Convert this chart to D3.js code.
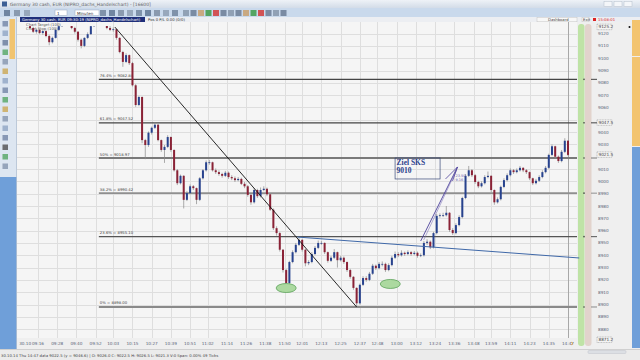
<!DOCTYPE html>
<html>
<head>
<meta charset="utf-8">
<script src="https://cdn.jsdelivr.net/npm/d3@7"></script>
<style>
  body { margin: 0; background: #efefef; }
  svg { display: block; font-family: 'DejaVu Sans', sans-serif; }
</style>
</head>
<body>
<div id="chart"></div>
<script>
// 2-minute candles, first one at 09:11
const candleStart = '09:11'
const candleStep = 2
const firstOpen = 9126

const closes = [
  9124.5, 9121.5, 9123, 9120.5, 9122, 9118, 9113, 9116.5, 9123, 9126,
  9135, 9137.5, 9134.5, 9124.5, 9121.5, 9115, 9110, 9116.5, 9119.5, 9126,
  9135, 9139, 9137.5, 9132.5, 9124.5, 9123, 9123.5, 9116.5, 9105, 9097,
  9102.5, 9096, 9078, 9062, 9068.5, 9033.5, 9029.5, 9039.5, 9043.5, 9046,
  9033.5, 9025.5, 9028, 9036, 9025.5, 9009, 8998.5, 9004.5, 8985, 8990.5,
  8996, 8994.5, 8985, 9002.5, 9009, 9015.5, 9015.5, 9009, 9007.5, 9006,
  9004.5, 9007, 9003.5, 9002.5, 9001, 9002, 8998, 8996, 8989, 8983,
  8993, 8988, 8993, 8994, 8989.5, 8977, 8962, 8958, 8944.5, 8928,
  8917.5, 8934.5, 8942.5, 8948.5, 8952.5, 8944.5, 8933.5, 8934.5, 8941, 8946,
  8950, 8950, 8942.5, 8935.5, 8938, 8942.5, 8936, 8938, 8934.5, 8928,
  8922.5, 8913.5, 8901, 8916, 8921.5, 8920, 8925, 8931.5, 8929.5, 8933,
  8933, 8928, 8932, 8938, 8941, 8940, 8942, 8941, 8942.5, 8941,
  8942, 8939.5, 8940, 8950, 8951, 8946.5, 8958, 8972, 8972.5, 8972.5,
  8974.5, 8960.5, 8958, 8964.5, 8971, 8986.5, 9004.5, 9009, 9005, 8999.5,
  8996, 8998.5, 9003.5, 9004.5, 8993, 8983, 8985.5, 8995.5, 9001, 9005,
  9009, 9007.5, 9009, 9011, 9009, 9007.5, 9002.5, 8998.5, 9000.5, 9003.5,
  9007.5, 9011, 9021.5, 9028.5, 9020, 9016.5, 9024, 9033, 9021.5
]

const highs = [
  9127, 9125.5, 9124, 9124, 9123, 9123, 9119, 9117.5, 9124, 9127,
  9136, 9138.5, 9138, 9135, 9125.5, 9122, 9116, 9117, 9121, 9127,
  9136, 9140, 9139.5, 9138, 9133, 9126, 9125, 9124, 9117, 9106,
  9104, 9103, 9097, 9079, 9069.5, 9069, 9034.5, 9040.5, 9044.5, 9048,
  9046.5, 9034, 9029.5, 9037.5, 9036.5, 9026, 9010, 9005.5, 9005, 8992,
  8997.5, 8997, 8995, 9003.5, 9010, 9017, 9017.5, 9016, 9010.5, 9009,
  9007, 9008.5, 9008, 9005, 9004, 9003.5, 9003, 8999.5, 8997, 8990,
  8994.5, 8994, 8995, 8996, 8995, 8990, 8978, 8963.5, 8959, 8945,
  8929, 8935.5, 8944, 8950, 8954.5, 8953, 8945, 8936, 8942.5, 8947.5,
  8952, 8951.5, 8950.5, 8943, 8939.5, 8945, 8943, 8939.5, 8939, 8935,
  8929, 8923, 8914, 8917, 8923, 8923, 8926.5, 8933, 8932.5, 8934.5,
  8935, 8934, 8933.5, 8939.5, 8943, 8942.5, 8944, 8943, 8944, 8943.5,
  8943.5, 8943, 8941.5, 8951.5, 8953, 8952, 8959, 8973.5, 8974, 8974.5,
  8980, 8975, 8962, 8966, 8972.5, 8987.5, 9006, 9012.5, 9010, 9006,
  9000.5, 9000, 9005, 9008, 9005, 8993.5, 8987, 8996.5, 9002.5, 9006.5,
  9010.5, 9010, 9010.5, 9012.5, 9011.5, 9010, 9008, 9003, 9002, 9005,
  9009, 9012.5, 9022.5, 9030, 9029, 9021, 9025.5, 9035, 9033.5
]

const lows = [
  9123.5, 9120.5, 9120, 9119.5, 9119, 9117, 9110.5, 9112, 9116, 9122,
  9125.5, 9134, 9131, 9123.5, 9120, 9113.5, 9108, 9109, 9115.5, 9119,
  9125.5, 9134, 9136, 9131.5, 9123.5, 9122, 9121.5, 9115, 9104, 9093,
  9096, 9094.5, 9077, 9060.5, 9061, 9031, 9018, 9028, 9038, 9042.5,
  9032.5, 9024, 9015, 9027, 9024, 9008, 8997, 8997.5, 8978, 8984,
  8989.5, 8993, 8981.5, 8984, 9001.5, 9008, 9013.5, 9008, 9006, 9004.5,
  9003, 9003.5, 9002, 9001, 8999.5, 9000, 8997, 8994.5, 8987.5, 8981,
  8982, 8986.5, 8987, 8992, 8988, 8976, 8960.5, 8956, 8943, 8926,
  8914, 8916.5, 8933.5, 8941.5, 8947.5, 8943, 8931, 8932, 8933.5, 8940,
  8945, 8948.5, 8941, 8934, 8934.5, 8937, 8930, 8935, 8933, 8926.5,
  8921, 8912, 8898, 8900, 8915, 8918.5, 8919, 8924, 8928, 8928.5,
  8931, 8926.5, 8927, 8931, 8937, 8938.5, 8939, 8939.5, 8940, 8939.5,
  8940, 8938, 8938.5, 8939, 8948.5, 8945, 8945.5, 8957, 8970.5, 8971,
  8971.5, 8959, 8956.5, 8957, 8963.5, 8970, 8985.5, 9003.5, 9003.5, 8998,
  8994.5, 8995, 8997.5, 9002.5, 8991.5, 8981, 8982, 8984.5, 8994.5, 9000,
  9004, 9006, 9006.5, 9008, 9007.5, 9006, 9001, 8997, 8997.5, 8999.5,
  9002.5, 9006.5, 9010, 9020.5, 9018.5, 9015, 9015.5, 9023, 9020.5
]

const timeLabels = [
  '09:16', '09:28', '09:40', '09:52', '10:03', '10:15', '10:27', '10:39',
  '10:51', '11:02', '11:14', '11:26', '11:38', '11:50', '12:01', '12:13',
  '12:25', '12:37', '12:48', '13:00', '13:12', '13:24', '13:36', '13:48',
  '13:59', '14:11', '14:23', '14:35', '14:47'
]
const dateLabel = { text: '30.10', time: '09:08' }

const priceTicks = [
  8880, 8890, 8900, 8910, 8920, 8930, 8940, 8950, 8960, 8970, 8980, 8990, 9000,
  9010, 9020, 9030, 9040, 9050, 9060, 9070, 9080, 9090, 9100, 9110, 9120
]
const priceBoxes = ['9125.2', '9047.5', '9021.5', '8871.2']

const fibNames = ['0%', '23.6%', '38.2%', '50%', '61.8%', '76.4%']
const fibPrices = [8898.0, 8955.1, 8990.42, 9018.97, 9047.52, 9082.84]
const fibStart = '09:54'

const trendLine = [['10:04', 9125.3], ['12:35', 8898]]
const neckLine = [['11:58', 8954.8], ['14:54', 8937.8]]
const arrowLine = [['13:15', 8951.6], ['13:38', 9011.7]]
const bottoms = [['11:51', 8913.4], ['12:56', 8916.7]]
const targetNote = { time: '12:59', price: 9019, lines: ['Ziel SKS', '9010'] }

const toMin = s => +s.slice(0, 2) * 60 + +s.slice(3, 5)

const W = 640
const H = 360
const plot = { left: 17, right: 577, top: 22, bottom: 338 }

const x = d3.scaleLinear().domain([toMin('09:16'), toMin('14:47')]).range([38, 568])
const y = d3.scaleLinear().domain([8871.2, 9129.4]).range([340, 22])

const svg = d3
  .select('#chart')
  .append('svg')
  .attr('width', W)
  .attr('height', H)

svg.append('rect').attr('width', W).attr('height', H).attr('fill', '#efefef')

// window chrome
const grad = svg.append('defs').append('linearGradient')
  .attr('id', 'title').attr('x1', 0).attr('x2', 0).attr('y1', 0).attr('y2', 1)
grad.append('stop').attr('offset', 0).attr('stop-color', '#eef2f7')
grad.append('stop').attr('offset', 1).attr('stop-color', '#d3dce8')
svg.append('rect').attr('width', W).attr('height', 8).attr('fill', 'url(#title)')
svg.append('rect').attr('x', 2).attr('y', 1.5).attr('width', 5).attr('height', 5).attr('fill', '#3c5f95')
svg.append('text').attr('x', 10).attr('y', 6).attr('font-size', 4.5).attr('fill', '#666')
  .text('Germany 30 cash, EUR (NIPRO_dachs_Handelschart) - [16600]')
;[604, 614, 624].forEach(bx => {
  svg.append('rect').attr('x', bx).attr('y', 1.5).attr('width', 8).attr('height', 5)
    .attr('fill', '#f4f6f9').attr('stroke', '#b5bfcc').attr('stroke-width', 0.5)
})

svg.append('rect').attr('y', 8).attr('width', W).attr('height', 9).attr('fill', '#c9d9ec')
const iconColors = ['#5a6f8e', '#7a8aa0', '#8c9bb0', '#6d7f9a']
d3.range(0, 12).forEach(i => {
  svg.append('rect').attr('x', i < 3 ? 4 + i * 10 : 100 + (i - 3) * 9).attr('y', 10)
    .attr('width', 6).attr('height', 6).attr('fill', iconColors[i % 4]).attr('opacity', 0.8)
})
svg.append('rect').attr('x', 55).attr('y', 10).attr('width', 12).attr('height', 5.5).attr('fill', '#fff').attr('stroke', '#9aa8bb').attr('stroke-width', 0.5)
svg.append('text').attr('x', 57).attr('y', 14.5).attr('font-size', 4).attr('fill', '#333').text('1')
svg.append('rect').attr('x', 75).attr('y', 10).attr('width', 24).attr('height', 5.5).attr('fill', '#fff').attr('stroke', '#9aa8bb').attr('stroke-width', 0.5)
svg.append('text').attr('x', 77).attr('y', 14.5).attr('font-size', 4).attr('fill', '#333').text('Minuten')
d3.range(0, 14).forEach(i => {
  svg.append('rect').attr('x', 183 + i * 7.5).attr('y', 10).attr('width', 6).attr('height', 6)
    .attr('fill', ['#8796ab', '#6c7d96', '#c9a070', '#3f9a4a', '#d23b3b', '#6c7d96'][i % 6]).attr('opacity', 0.85)
})

// header strip
svg.append('rect').attr('y', 17).attr('width', W).attr('height', 5).attr('fill', '#eceef2')
svg.append('rect').attr('x', 20).attr('y', 17).attr('width', 125).attr('height', 5).attr('fill', '#1f2f7a')
svg.append('text').attr('x', 22).attr('y', 21).attr('font-size', 3.8).attr('fill', '#fff')
  .text('Germany 30 cash, EUR   09:30:19 (NIPRO_dachs_Handelschart)')
svg.append('text').attr('x', 148).attr('y', 21).attr('font-size', 3.8).attr('fill', '#333').text('Pos 0  P/L 0.00  (0/0)')
svg.append('rect').attr('x', 537).attr('y', 17.3).attr('width', 40).attr('height', 4.5).attr('fill', '#f7f7f7').attr('stroke', '#bbb').attr('stroke-width', 0.4)
svg.append('text').attr('x', 548).attr('y', 21).attr('font-size', 3.8).attr('fill', '#444').text('Dashboard')
svg.append('rect').attr('x', 582).attr('y', 17.3).attr('width', 7).attr('height', 4.5).attr('fill', '#f7f7f7').attr('stroke', '#bbb').attr('stroke-width', 0.4)
svg.append('text').attr('x', 583).attr('y', 21).attr('font-size', 3.8).attr('fill', '#444').text('Exit')
svg.append('rect').attr('x', 593).attr('y', 18).attr('width', 3).attr('height', 3).attr('fill', '#d22')
svg.append('text').attr('x', 598).attr('y', 21).attr('font-size', 3.8).attr('fill', '#d22').text('15:08:01')

// plot background and grid
svg.append('rect')
  .attr('x', plot.left).attr('y', plot.top)
  .attr('width', plot.right - plot.left).attr('height', plot.bottom - plot.top)
  .attr('fill', '#f5f5f5')

svg.append('g')
  .selectAll('line')
  .data(priceTicks)
  .enter()
  .append('line')
  .attr('x1', plot.left).attr('x2', plot.right)
  .attr('y1', d => Math.round(y(d)) + 0.5).attr('y2', d => Math.round(y(d)) + 0.5)
  .attr('stroke', '#dedede')

svg.append('g')
  .selectAll('line')
  .data(timeLabels)
  .enter()
  .append('line')
  .attr('x1', d => Math.round(x(toMin(d))) + 0.5).attr('x2', d => Math.round(x(toMin(d))) + 0.5)
  .attr('y1', plot.top).attr('y2', plot.bottom)
  .attr('stroke', '#dedede')

// last-bar marker line
svg.append('line')
  .attr('x1', Math.round(x(toMin('14:47'))) + 0.5).attr('x2', Math.round(x(toMin('14:47'))) + 0.5)
  .attr('y1', plot.top).attr('y2', plot.bottom)
  .attr('stroke', '#a8a8a8')

// right bands
svg.append('rect').attr('x', 578).attr('y', 24).attr('width', 6.5).attr('height', 322).attr('rx', 3).attr('fill', '#bfe3a6')
svg.append('rect').attr('x', 585).attr('y', 24).attr('width', 6.5).attr('height', 322).attr('rx', 3).attr('fill', '#e2d3cc')

// legend texts
svg.append('text').attr('x', 26).attr('y', 25.5).attr('font-size', 3.8).attr('fill', '#555').text('Chart Target (100)')
svg.append('text').attr('x', 26).attr('y', 30).attr('font-size', 3.8).attr('fill', '#555').text('Chart Stop (100)')

// fibonacci levels
const fibStyle = [
  { w: 1.8, c: '#8a8a8a' },
  { w: 1.3, c: '#555' },
  { w: 1.8, c: '#8f8f8f' },
  { w: 1.8, c: '#7a7a7a' },
  { w: 1.1, c: '#444' },
  { w: 1.1, c: '#444' }
]
const fib = svg.append('g')
fibPrices.forEach((p, i) => {
  const yy = y(p)
  fib.append('line')
    .attr('x1', x(toMin(fibStart))).attr('x2', plot.right)
    .attr('y1', yy).attr('y2', yy)
    .attr('stroke', fibStyle[i].c).attr('stroke-width', fibStyle[i].w)
  fib.append('circle').attr('cx', 584).attr('cy', yy).attr('r', 0.8).attr('fill', '#444')
  fib.append('line').attr('x1', 591).attr('x2', 597).attr('y1', yy).attr('y2', yy)
    .attr('stroke', fibStyle[i].c).attr('stroke-width', 1)
  fib.append('text')
    .attr('x', x(toMin(fibStart)) + 1).attr('y', yy - 2.5)
    .attr('font-size', 3.8).attr('fill', '#444')
    .text(fibNames[i] + ' = ' + p.toFixed(2))
})

// candles
const candles = closes.map((c, i) => ({
  t: toMin(candleStart) + i * candleStep,
  o: i === 0 ? firstOpen : closes[i - 1],
  h: highs[i],
  l: lows[i],
  c: c
}))

svg.append('clipPath').attr('id', 'clip')
  .append('rect').attr('x', plot.left).attr('y', 26)
  .attr('width', plot.right - plot.left).attr('height', plot.bottom - 26)

const cg = svg.append('g').attr('clip-path', 'url(#clip)')
cg.selectAll('.wick')
  .data(candles)
  .enter()
  .append('line')
  .attr('class', 'wick')
  .attr('x1', d => x(d.t)).attr('x2', d => x(d.t))
  .attr('y1', d => y(d.h)).attr('y2', d => y(d.l))
  .attr('stroke', '#8a8a8a').attr('stroke-width', 0.7)

cg.selectAll('.body')
  .data(candles)
  .enter()
  .append('rect')
  .attr('class', 'body')
  .attr('x', d => x(d.t) - 1)
  .attr('width', 2)
  .attr('y', d => y(Math.max(d.o, d.c)))
  .attr('height', d => Math.max(0.8, Math.abs(y(d.o) - y(d.c))))
  .attr('fill', d => (d.c >= d.o ? '#27428e' : '#8a2236'))

// annotations
svg.append('line')
  .attr('x1', x(toMin(trendLine[0][0]))).attr('y1', y(trendLine[0][1]))
  .attr('x2', x(toMin(trendLine[1][0]))).attr('y2', y(trendLine[1][1]))
  .attr('stroke', '#111').attr('stroke-width', 0.9)

svg.append('line')
  .attr('x1', x(toMin(neckLine[0][0]))).attr('y1', y(neckLine[0][1]))
  .attr('x2', x(toMin(neckLine[1][0]))).attr('y2', y(neckLine[1][1]))
  .attr('stroke', '#3f68a8').attr('stroke-width', 1)

svg.selectAll('.bottom')
  .data(bottoms)
  .enter()
  .append('ellipse')
  .attr('class', 'bottom')
  .attr('cx', d => x(toMin(d[0]))).attr('cy', d => y(d[1]))
  .attr('rx', 10).attr('ry', 4.5)
  .attr('fill', '#acd9a0').attr('stroke', '#5da35a').attr('stroke-width', 0.8)

const ax1 = x(toMin(arrowLine[0][0]))
const ay1 = y(arrowLine[0][1])
const ax2 = x(toMin(arrowLine[1][0]))
const ay2 = y(arrowLine[1][1])
svg.append('line').attr('x1', ax1).attr('y1', ay1).attr('x2', ax2).attr('y2', ay2)
  .attr('stroke', '#4b3f9a').attr('stroke-width', 0.9)
svg.append('line').attr('x1', ax1 + 3).attr('y1', ay1 - 1).attr('x2', ax2 - 1).attr('y2', ay2 + 3)
  .attr('stroke', '#6a5fb0').attr('stroke-width', 0.5)
svg.append('path')
  .attr('d', `M${ax2 - 12},${ay2 + 12} L${ax2},${ay2} L${ax2 - 5},${ay2 + 14}`)
  .attr('fill', 'none').attr('stroke', '#4b3f9a').attr('stroke-width', 0.8)
svg.append('text').attr('x', ax2 - 2).attr('y', ay2 + 10).attr('font-size', 3.5).attr('fill', '#6a5fb0').text('23.50')
svg.append('text').attr('x', ax2 - 2).attr('y', ay2 + 14.5).attr('font-size', 3.5).attr('fill', '#6a5fb0').text('9.16')

const nx = x(toMin(targetNote.time))
const ny = y(targetNote.price)
svg.append('rect').attr('x', nx).attr('y', ny).attr('width', 45).attr('height', 21)
  .attr('fill', 'none').attr('stroke', '#3b4a7a').attr('stroke-width', 0.7)
targetNote.lines.forEach((t, i) => {
  svg.append('text')
    .attr('x', nx + 1.5).attr('y', ny + 7.5 + i * 7.5)
    .attr('font-family', "'Liberation Serif', serif").attr('font-weight', 'bold')
    .attr('font-size', 7.5).attr('fill', '#2b3f8c')
    .text(t)
})

// price axis: tick labels give way to the boxed values
const boxYs = priceBoxes.map(b => Math.min(y(+b), 340))
svg.append('g')
  .selectAll('text')
  .data(priceTicks.filter(d => boxYs.every(by => Math.abs(y(d) - by) > 6)))
  .enter()
  .append('text')
  .attr('x', 598).attr('y', d => y(d) + 1.5)
  .attr('font-size', 4.2).attr('fill', '#5a6478')
  .text(d => d)

priceBoxes.forEach((b, i) => {
  const yy = boxYs[i]
  svg.append('rect').attr('x', 597).attr('y', yy - 3).attr('width', 15).attr('height', 5.5)
    .attr('fill', '#f4f4f4').attr('stroke', '#777').attr('stroke-width', 0.4).attr('stroke-dasharray', '1,0.6')
  svg.append('text').attr('x', 598.5).attr('y', yy + 1.3).attr('font-size', 4.2).attr('fill', '#444').text(b)
})

// time axis
svg.append('g')
  .selectAll('text')
  .data(timeLabels)
  .enter()
  .append('text')
  .attr('x', d => x(toMin(d))).attr('y', 344.5)
  .attr('text-anchor', 'middle')
  .attr('font-size', 4.2).attr('fill', '#5a6478')
  .text(d => d)
svg.append('text').attr('x', x(toMin(dateLabel.time))).attr('y', 344.5)
  .attr('text-anchor', 'middle').attr('font-size', 4.2).attr('fill', '#5a6478').text(dateLabel.text)
svg.append('path').attr('d', 'M571,342 l2,1.5 l-2,1.5').attr('fill', 'none').attr('stroke', '#e0a040').attr('stroke-width', 0.8)

// side panels
svg.append('rect').attr('x', 0).attr('y', 17).attr('width', 16.5).attr('height', 160).attr('fill', '#dde6f1')
svg.append('rect').attr('x', 0).attr('y', 177).attr('width', 16.5).attr('height', 172).attr('fill', '#6f9fd9')
svg.append('rect').attr('x', 9.5).attr('y', 19).attr('width', 5.5).attr('height', 40).attr('fill', '#f1c470')
const leftIcons = ['#6a7ea0', '#8aa0c0', '#5e7294', '#49a25a', '#7d8fa8', '#c9a348', '#8aa0c0', '#6a7ea0',
  '#49a25a', '#c9a348', '#7d8fa8', '#8aa0c0', '#6a7ea0', '#444', '#49a25a', '#7d8fa8']
leftIcons.forEach((c, i) => {
  svg.append('rect').attr('x', 2.5).attr('y', 21 + i * 9.5).attr('width', 5.5).attr('height', 5.5)
    .attr('fill', c).attr('opacity', 0.75)
})
svg.append('line').attr('x1', 16.5).attr('x2', 16.5).attr('y1', 17).attr('y2', 349).attr('stroke', '#9fb2c9').attr('stroke-width', 0.6)

svg.append('rect').attr('x', 632).attr('y', 20).attr('width', 8).attr('height', 36).attr('fill', '#f3c46f')
svg.append('rect').attr('x', 632).attr('y', 57).attr('width', 8).attr('height', 89).attr('fill', '#f3c46f')
svg.append('rect').attr('x', 632).attr('y', 147).attr('width', 8).attr('height', 201).attr('fill', '#6f9fd9')
svg.append('circle').attr('cx', 629.5).attr('cy', 27).attr('r', 1).attr('fill', '#111')

// status bar
svg.append('rect').attr('y', 349).attr('width', W).attr('height', 11).attr('fill', '#ebebeb')
svg.append('line').attr('x1', 0).attr('x2', W).attr('y1', 349.5).attr('y2', 349.5).attr('stroke', '#d0d0d0')
svg.append('text').attr('x', 1).attr('y', 356.5).attr('font-size', 3.8).attr('fill', '#444')
  .text('30.10.14 Thu  14:47  data 9022.5 (y = 9046.6)  |   O: 9026.0  C: 9022.5  H: 9026.5  L: 9021.3  V:0  Span: 0.00% 49 Ticks')
svg.append('rect').attr('x', 588).attr('y', 350.5).attr('width', 38).attr('height', 3).attr('rx', 1).attr('fill', '#dcdfe4').attr('stroke', '#b8bcc4').attr('stroke-width', 0.4)
</script>
</body>
</html>
